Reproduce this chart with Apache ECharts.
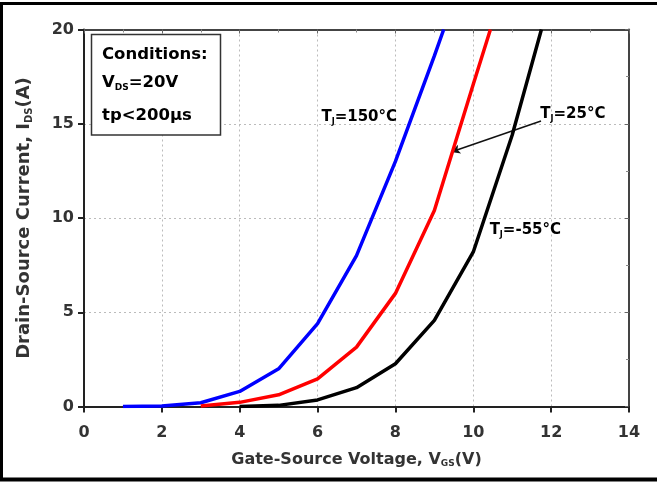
<!DOCTYPE html>
<html>
<head>
<meta charset="utf-8">
<script src="https://cdn.jsdelivr.net/npm/echarts@6/dist/echarts.min.js"></script>
<style>
html, body { margin: 0; padding: 0; background: #fff; }
#chart { width: 657px; height: 482px; }
</style>
</head>
<body>
<div id="chart"></div>
<script>
// Transfer characteristics: drain current vs gate-source voltage at three junction temperatures
const vgsHot = [1, 2, 3, 4, 5, 6, 7, 8, 9, 9.24];
const idsHot = [0, 0.03, 0.2, 0.8, 2.0, 4.4, 8.0, 13.0, 18.6, 20];

const vgsRoom = [3, 4, 5, 6, 7, 8, 9, 10, 10.44];
const idsRoom = [0.03, 0.22, 0.62, 1.47, 3.15, 6.0, 10.4, 17.1, 20];

const vgsCold = [4, 5, 6, 7, 8, 9, 10, 11, 11.75];
const idsCold = [0, 0.06, 0.35, 1.0, 2.27, 4.57, 8.2, 14.4, 20];

const xTicks = [0, 2, 4, 6, 8, 10, 12, 14];
const yTicks = [0, 5, 10, 15, 20];

const FONT = 'DejaVu Sans';
const TXT = '#333';

const pairs = (xs, ys) => xs.map((x, i) => [x, ys[i]]);

const chart = echarts.init(document.getElementById('chart'), null, { renderer: 'canvas' });

const richFor = (size, subPad) => ({
  n: { fontFamily: FONT, fontSize: size, fontWeight: 'bold', color: TXT },
  s: { fontFamily: FONT, fontSize: Math.round(size * 0.55), fontWeight: 'bold', color: TXT, padding: [subPad, 0, 0, 0] }
});

const frameAxis = {
  type: 'value',
  axisLine: { show: true, onZero: false, lineStyle: { color: '#444', width: 2 } },
  axisTick: { show: true, inside: true, length: 4, lineStyle: { color: '#666' } },
  minorTick: { show: true, splitNumber: 2, length: 3, lineStyle: { color: '#888' } },
  axisLabel: { show: false },
  splitLine: { show: false }
};

const lineSeries = (name, data, color) => ({
  name,
  type: 'line',
  data,
  showSymbol: false,
  symbol: 'none',
  smooth: false,
  clip: true,
  lineStyle: { color, width: 3.5 },
  z: 5
});

chart.setOption({
  animation: false,
  backgroundColor: '#fff',
  grid: { left: 84, right: 28, top: 29.5, bottom: 75.5, containLabel: false },
  xAxis: [
    {
      type: 'value', min: 0, max: 14, interval: 2, position: 'bottom',
      name: '{n|Gate-Source Voltage, V}{s|GS}{n|(V)}',
      nameLocation: 'middle', nameGap: 44,
      nameTextStyle: { rich: richFor(16, 9) },
      axisLine: { show: true, onZero: false, lineStyle: { color: '#222', width: 2 } },
      axisTick: { show: true, inside: false, length: 6, lineStyle: { color: '#222', width: 2 } },
      minorTick: { show: false },
      axisLabel: {
        margin: 18, color: TXT, fontFamily: FONT, fontSize: 16, fontWeight: 'bold',
        formatter: v => xTicks.includes(v) ? String(v) : ''
      },
      splitLine: { show: true, lineStyle: { color: '#bbb', type: [2, 3], width: 1 } }
    },
    Object.assign({}, frameAxis, { min: 0, max: 14, interval: 2, position: 'top' })
  ],
  yAxis: [
    {
      type: 'value', min: 0, max: 20, interval: 5, position: 'left',
      name: '{n|Drain-Source Current, I}{s|DS}{n|(A)}',
      nameLocation: 'middle', nameGap: 50, nameRotate: 90,
      nameTextStyle: { rich: richFor(18, 10) },
      axisLine: { show: true, onZero: false, lineStyle: { color: '#222', width: 2 } },
      axisTick: { show: true, inside: false, length: 6, lineStyle: { color: '#222', width: 2 } },
      minorTick: { show: false },
      axisLabel: {
        margin: 10, color: TXT, fontFamily: FONT, fontSize: 16, fontWeight: 'bold',
        formatter: v => yTicks.includes(v) ? String(v) : ''
      },
      splitLine: { show: true, lineStyle: { color: '#bbb', type: [2, 3], width: 1 } }
    },
    Object.assign({}, frameAxis, { min: 0, max: 20, interval: 5, position: 'right' })
  ],
  series: [
    lineSeries('TJ=150°C', pairs(vgsHot, idsHot), '#0000ff'),
    Object.assign(lineSeries('TJ=25°C', pairs(vgsRoom, idsRoom), '#ff0000'), {
      markLine: {
        silent: true,
        symbol: ['none', 'arrow'],
        symbolSize: [7, 9],
        label: { show: false },
        lineStyle: { color: '#111', width: 1.5, type: 'solid' },
        data: [[{ coord: [11.74, 15.15] }, { coord: [9.43, 13.5] }]]
      }
    }),
    lineSeries('TJ=-55°C', pairs(vgsCold, idsCold), '#000000')
  ]
});

// Curve labels placed in data coordinates, drawn as rich text with subscripts
const labelRich = richFor(15, 10);
const curveLabels = [
  { at: [6.1, 15.35], text: '{n|T}{s|J}{n|=150°C}' },
  { at: [11.72, 15.5], text: '{n|T}{s|J}{n|=25°C}' },
  { at: [10.42, 9.35], text: '{n|T}{s|J}{n|=-55°C}' }
];
const graphics = curveLabels.map(l => {
  const p = chart.convertToPixel({ gridIndex: 0 }, l.at);
  return {
    type: 'text', x: p[0], y: p[1], z: 10,
    style: { text: l.text, rich: labelRich, verticalAlign: 'middle', align: 'left' }
  };
});

// Test-conditions box in the upper-left corner of the plot
graphics.push({
  type: 'rect', z: 10,
  shape: { x: 91.5, y: 34.5, width: 129, height: 100.5 },
  style: { fill: '#fff', stroke: '#333', lineWidth: 1.5 }
});
const condRich = richFor(16.5, 10);
[
  { y: 55, text: '{n|Conditions:}' },
  { y: 83, text: '{n|V}{s|DS}{n|=20V}' },
  { y: 116, text: '{n|tp<200µs}' }
].forEach(t => graphics.push({
  type: 'text', x: 102, y: t.y, z: 11,
  style: { text: t.text, rich: condRich, verticalAlign: 'middle', align: 'left' }
}));

// Outer frame of the figure
graphics.push({
  type: 'polyline', z: 20,
  shape: { points: [[1.5, 479.5], [1.5, 3.5], [657, 3.5]] },
  style: { stroke: '#000', lineWidth: 3, fill: null }
});
graphics.push({
  type: 'line', z: 20,
  shape: { x1: 0, y1: 479.5, x2: 657, y2: 479.5 },
  style: { stroke: '#000', lineWidth: 4 }
});

chart.setOption({ graphic: graphics });
</script>
</body>
</html>
